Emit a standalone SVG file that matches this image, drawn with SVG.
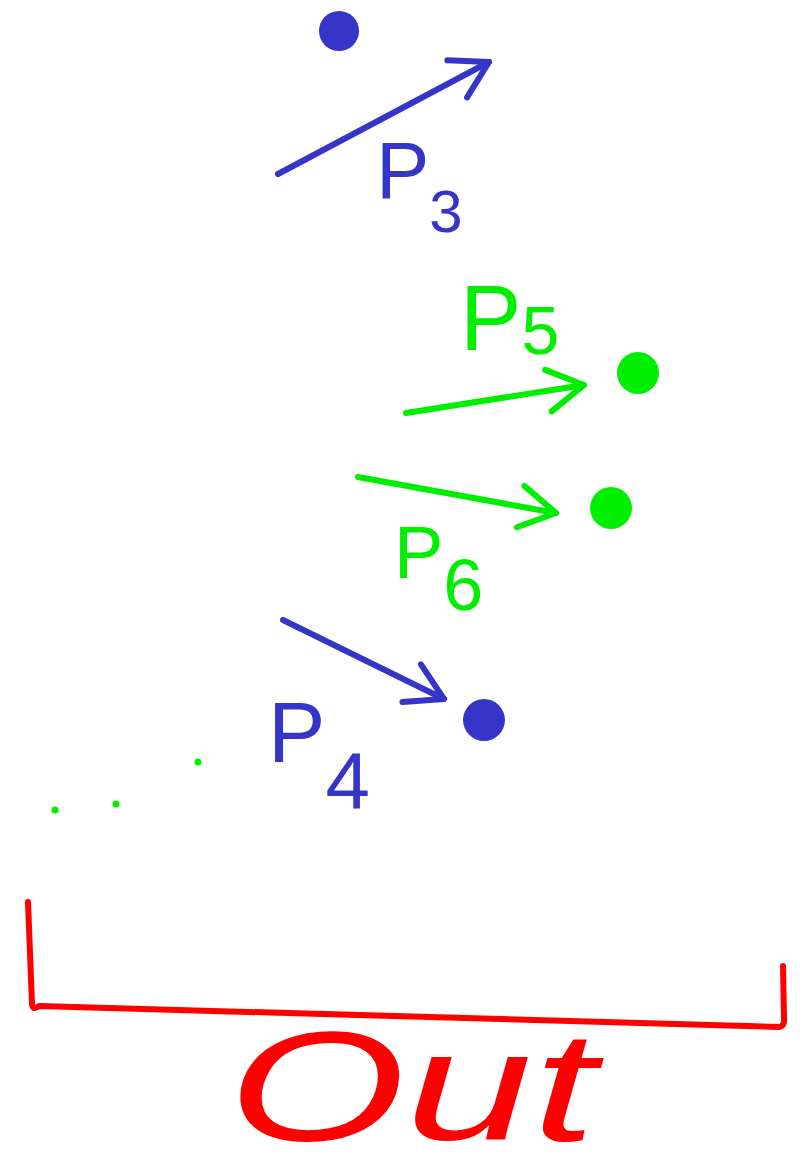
<svg xmlns="http://www.w3.org/2000/svg" width="806" height="1176" viewBox="0 0 806 1176">
<style>
.bg{fill:#ffffff}
.blue{fill:#3535c9}
.green{fill:#00ee00}
.lblue{fill:#3535c9;font-family:"Liberation Sans","DejaVu Sans",sans-serif}
.lgreen{fill:#00ee00;font-family:"Liberation Sans","DejaVu Sans",sans-serif}
.ab{stroke:#3535c9;stroke-width:6;stroke-linecap:round;fill:none}
.ag{stroke:#00ee00;stroke-width:6;stroke-linecap:round;fill:none}
.red{stroke:#ff0000;stroke-width:6;stroke-linecap:round;stroke-linejoin:round;fill:none}
</style>
<defs>
<marker id="mb" markerUnits="userSpaceOnUse" viewBox="-45 -30 50 60" markerWidth="50" markerHeight="60" refX="0" refY="0" orient="auto" overflow="visible">
<path d="M-36,-21 L0,0 L-36,21" fill="none" stroke="#3535c9" stroke-width="6" stroke-linecap="round" stroke-linejoin="round"/>
</marker>
<marker id="mg" markerUnits="userSpaceOnUse" viewBox="-45 -30 50 60" markerWidth="50" markerHeight="60" refX="0" refY="0" orient="auto" overflow="visible">
<path d="M-36,-21 L0,0 L-36,21" fill="none" stroke="#00ee00" stroke-width="6" stroke-linecap="round" stroke-linejoin="round"/>
</marker>
</defs>
<rect class="bg" x="0" y="0" width="806" height="1176"/>

<g id="connectors">
<line class="ab" x1="278" y1="174" x2="489" y2="62" marker-end="url(#mb)"/>
<line class="ag" x1="406" y1="413" x2="584" y2="385" marker-end="url(#mg)"/>
<line class="ag" x1="358" y1="477" x2="556" y2="513" marker-end="url(#mg)"/>
<line class="ab" x1="283" y1="620" x2="444" y2="699" marker-end="url(#mb)"/>
</g>

<g id="dot-blue-top"><circle class="blue" cx="339" cy="31" r="20"/></g>
<g id="dot-green-1"><circle class="green" cx="638" cy="373" r="21"/></g>
<g id="dot-green-2"><circle class="green" cx="611" cy="508" r="21"/></g>
<g id="dot-blue-bottom"><circle class="blue" cx="484" cy="720" r="21"/></g>

<g id="label-p3"><text class="lblue" x="376" y="198" font-size="80">P<tspan font-size="60" dy="34">3</tspan></text></g>
<g id="label-p5"><text class="lgreen" x="460" y="350" font-size="92">P<tspan font-size="68" dy="4">5</tspan></text></g>
<g id="label-p6"><text class="lgreen" x="394" y="578" font-size="74">P<tspan font-size="72" dy="32">6</tspan></text></g>
<g id="label-p4"><text class="lblue" x="268" y="762" font-size="86">P<tspan font-size="80" dy="46">4</tspan></text></g>

<g id="ellipsis">
<circle class="green" cx="55" cy="810" r="3.5"/>
<circle class="green" cx="116" cy="804" r="3.5"/>
<circle class="green" cx="198" cy="762" r="3.5"/>
</g>

<g id="out">
<path class="red" d="M28,902 L32,1004 Q33,1011 39,1006 L779,1027 Q785,1026 784,1018 L783,966"/>
<text transform="translate(228,1140) scale(1,1.2)" x="0" y="0" fill="#ff0000" font-family="Liberation Sans" font-style="italic" font-size="130" textLength="368" lengthAdjust="spacingAndGlyphs">Out</text>
</g>
</svg>
